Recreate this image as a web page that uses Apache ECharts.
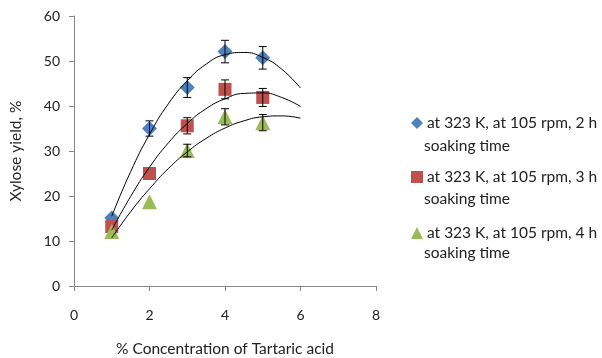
<!DOCTYPE html>
<html><head><meta charset="utf-8">
<script src="https://cdn.jsdelivr.net/npm/echarts@6/dist/echarts.min.js"></script>
<style>html,body{margin:0;padding:0;background:#fff}#c{width:602px;height:358px}</style>
</head><body><div id="c"></div>
<script>
const xCats = [1, 2, 3, 4, 5];
const blueVals = [15.1, 35.0, 44.1, 52.1, 50.7];
const blueErr = [0, 1.7, 2.2, 2.5, 2.5];
const redVals = [13.2, 25.0, 35.6, 43.7, 41.9];
const redErr = [0, 0, 1.8, 2.1, 2.0];
const greenVals = [12.1, 18.7, 30.1, 37.6, 36.3];
const greenErr = [0, 0, 1.4, 1.8, 1.8];
const trendX = [1, 1.5, 2, 2.5, 3, 3.5, 4, 4.5, 5, 5.5, 6];
const blueTrend = [15.5, 25.4, 33.7, 40.5, 45.6, 49.3, 51.4, 51.9, 50.8, 48.2, 44.0];
const redTrend = [12.4, 19.9, 26.4, 31.8, 36.1, 39.4, 41.6, 42.8, 42.9, 41.9, 39.9];
const greenTrend = [10.7, 16.5, 21.6, 26.1, 29.8, 32.8, 35.1, 36.7, 37.6, 37.8, 37.3];
const xTicks = [0, 2, 4, 6, 8];
const yTicks = [0, 10, 20, 30, 40, 50, 60];
const names = ['at 323 K, at 105 rpm, 2 h', 'at 323 K, at 105 rpm, 3 h', 'at 323 K, at 105 rpm, 4 h'];
const nameTail = 'soaking time';

const pts = v => xCats.map((x, i) => [x, v[i]]);
const errs = (v, e) => xCats.map((x, i) => [x, v[i] - e[i], v[i] + e[i]]).filter((d, i) => e[i] > 0);
const trend = v => trendX.map((x, i) => [x, v[i]]);

function errItem(params, api) {
  const x = api.value(0);
  const lo = api.coord([x, api.value(1)]);
  const hi = api.coord([x, api.value(2)]);
  const w = 4;
  const st = {stroke: '#000', lineWidth: 1};
  return {type: 'group', children: [
    {type: 'line', shape: {x1: lo[0], y1: lo[1], x2: hi[0], y2: hi[1]}, style: st},
    {type: 'line', shape: {x1: lo[0]-w, y1: lo[1], x2: lo[0]+w, y2: lo[1]}, style: st},
    {type: 'line', shape: {x1: hi[0]-w, y1: hi[1], x2: hi[0]+w, y2: hi[1]}, style: st}
  ]};
}
const colors = ['#4F81BD', '#C0504D', '#9BBB59'];
const symbols = ['diamond', 'rect', 'triangle'];
const vals = [blueVals, redVals, greenVals];
const errsArr = [blueErr, redErr, greenErr];
const trends = [blueTrend, redTrend, greenTrend];
const series = [];
for (let k = 0; k < 3; k++) {
  series.push({type: 'line', data: trend(trends[k]), smooth: true, showSymbol: false, symbol: 'none',
    lineStyle: {color: '#000', width: 1}, silent: true, z: 3, legendHoverLink: false});
}
for (let k = 0; k < 3; k++) {
  series.push({name: names[k], type: 'scatter', data: pts(vals[k]), symbol: symbols[k],
    symbolSize: k === 1 ? 13 : 15, itemStyle: {color: colors[k], opacity: 1}, z: 2});
}
for (let k = 0; k < 3; k++) {
  series.push({type: 'custom', data: errs(vals[k], errsArr[k]), renderItem: errItem, z: 4, silent: true,
    encode: {x: 0, y: [1, 2]}});
}
const font = 'Lato';
const fs = 15.5;
const legendTops = [110, 164, 220];
const tailTops = [138, 191, 245];
const legends = names.map((n, k) => ({
  orient: 'vertical', left: 406, top: legendTops[k], itemGap: 0, itemWidth: 12, itemHeight: 12,
  data: [{name: n, icon: symbols[k]}],
  textStyle: {fontSize: fs, color: '#222', fontFamily: font, padding: [0, 0, 0, -1]}
}));
const chart = echarts.init(document.getElementById('c'));
chart.setOption({
  animation: false,
  textStyle: {fontFamily: font},
  grid: {left: 74, top: 16, width: 302, height: 270, containLabel: false, outerBoundsMode: 'none'},
  legend: legends,
  graphic: names.map((n, k) => ({type: 'text', left: 424, top: tailTops[k],
    style: {text: nameTail, fontSize: fs, fill: '#222', fontFamily: font}})),
  xAxis: {type: 'value', min: xTicks[0], max: xTicks[xTicks.length-1], interval: 2,
    name: '% Concentration of Tartaric acid', nameLocation: 'middle', nameGap: 55,
    nameTextStyle: {fontSize: fs, color: '#222'},
    axisLine: {show: true, lineStyle: {color: '#868686'}},
    axisTick: {show: true, length: 5, lineStyle: {color: '#868686'}},
    axisLabel: {fontSize: 14, color: '#222', margin: 22},
    splitLine: {show: false}},
  yAxis: {type: 'value', min: yTicks[0], max: yTicks[yTicks.length-1], interval: 10,
    name: 'Xylose yield, %', nameLocation: 'middle', nameGap: 50,
    nameTextStyle: {fontSize: fs, color: '#222'},
    axisLine: {show: true, lineStyle: {color: '#868686'}},
    axisTick: {show: true, length: 5, lineStyle: {color: '#868686'}},
    axisLabel: {fontSize: 14, color: '#222', margin: 14},
    splitLine: {show: false}},
  series: series
});
</script></body></html>
